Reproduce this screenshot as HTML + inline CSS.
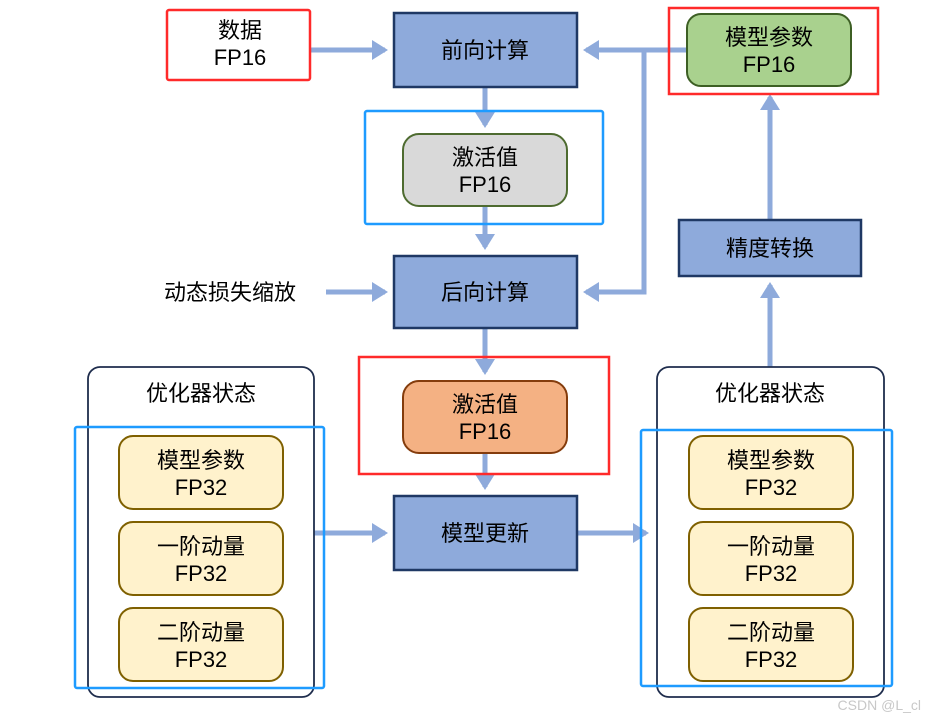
<!DOCTYPE html>
<html><head><meta charset="utf-8"><style>
html,body{margin:0;padding:0;background:#fff;width:925px;height:717px;overflow:hidden}
svg text{font-family:"Liberation Sans","Noto Sans CJK SC",sans-serif;fill:#000}
</style></head><body>
<svg width="925" height="717" viewBox="0 0 925 717" xmlns="http://www.w3.org/2000/svg">
<defs>
<marker id="ah" markerWidth="4" markerHeight="4" refX="2.6" refY="2" orient="auto" markerUnits="strokeWidth">
<path d="M0,0 L3.2,2 L0,4 Z" fill="#8eaadb"/></marker>
</defs>
<g stroke="#8eaadb" stroke-width="5" fill="none">
<line x1="300" y1="50" x2="385" y2="50" marker-end="url(#ah)"/>
<polyline points="687,50 644,50 644,292 586,292" marker-end="url(#ah)"/>
<line x1="644" y1="50" x2="586" y2="50" marker-end="url(#ah)"/>
<line x1="326" y1="292" x2="385" y2="292" marker-end="url(#ah)"/>
<line x1="485" y1="87" x2="485" y2="125" marker-end="url(#ah)"/>
<line x1="485" y1="206" x2="485" y2="247" marker-end="url(#ah)"/>
<line x1="485" y1="328" x2="485" y2="372" marker-end="url(#ah)"/>
<line x1="485" y1="453" x2="485" y2="487" marker-end="url(#ah)"/>
<line x1="314" y1="533" x2="385" y2="533" marker-end="url(#ah)"/>
<line x1="577" y1="533" x2="646" y2="533" marker-end="url(#ah)"/>
<line x1="770" y1="367" x2="770" y2="285" marker-end="url(#ah)"/>
<line x1="770" y1="220" x2="770" y2="97" marker-end="url(#ah)"/>
</g>
<!-- data -->
<rect x="167" y="10" width="143" height="70" fill="#fff" stroke="#ff2a2a" stroke-width="2.5" rx="2"/>
<text x="240" y="38" font-size="22" text-anchor="middle">数据</text>
<text x="240" y="65" font-size="22" text-anchor="middle">FP16</text>
<!-- model params fp16 -->
<rect x="669" y="8" width="209" height="86" fill="none" stroke="#ff2a2a" stroke-width="2.5"/>
<rect x="687" y="14" width="164" height="72" rx="14" fill="#a9d18e" stroke="#3d5f24" stroke-width="2"/>
<text x="769" y="45" font-size="22" text-anchor="middle">模型参数</text>
<text x="769" y="72" font-size="22" text-anchor="middle">FP16</text>
<!-- blue rects -->
<g fill="#8eaadb" stroke="#1f3864" stroke-width="2.5">
<rect x="394" y="13" width="183" height="74"/>
<rect x="394" y="256" width="183" height="72"/>
<rect x="394" y="496" width="183" height="74"/>
<rect x="679" y="220" width="182" height="56"/>
</g>
<g font-size="22" text-anchor="middle">
<text x="485" y="58">前向计算</text>
<text x="485" y="300">后向计算</text>
<text x="485" y="541">模型更新</text>
<text x="770" y="256">精度转换</text>
<text x="230" y="300">动态损失缩放</text>
</g>
<!-- activation 1 -->
<rect x="365" y="111" width="238" height="113" fill="none" stroke="#1e9bff" stroke-width="2.5" rx="2"/>
<rect x="403" y="134" width="164" height="72" rx="16" fill="#d9d9d9" stroke="#4e6b30" stroke-width="2"/>
<text x="485" y="165" font-size="22" text-anchor="middle">激活值</text>
<text x="485" y="192" font-size="22" text-anchor="middle">FP16</text>
<!-- activation 2 -->
<rect x="359" y="357" width="250" height="117" fill="none" stroke="#ff2a2a" stroke-width="2.5"/>
<rect x="403" y="381" width="164" height="72" rx="16" fill="#f4b183" stroke="#843c0c" stroke-width="2"/>
<text x="485" y="412" font-size="22" text-anchor="middle">激活值</text>
<text x="485" y="439" font-size="22" text-anchor="middle">FP16</text>
<!-- optimizer states -->
<g fill="none" stroke="#1f2d4d" stroke-width="1.8">
<rect x="88" y="367" width="226" height="330" rx="12"/>
<rect x="657" y="367" width="227" height="330" rx="12"/>
</g>
<text x="201" y="401" font-size="22" text-anchor="middle">优化器状态</text>
<text x="770" y="401" font-size="22" text-anchor="middle">优化器状态</text>
<g fill="#fff2cc" stroke="#7f6000" stroke-width="2">
<rect x="119" y="436" width="164" height="73" rx="14"/>
<rect x="119" y="522" width="164" height="73" rx="14"/>
<rect x="119" y="608" width="164" height="73" rx="14"/>
<rect x="689" y="436" width="164" height="73" rx="14"/>
<rect x="689" y="522" width="164" height="73" rx="14"/>
<rect x="689" y="608" width="164" height="73" rx="14"/>
</g>
<g font-size="22" text-anchor="middle">
<text x="201" y="468">模型参数</text><text x="201" y="495">FP32</text>
<text x="201" y="554">一阶动量</text><text x="201" y="581">FP32</text>
<text x="201" y="640">二阶动量</text><text x="201" y="667">FP32</text>
<text x="771" y="468">模型参数</text><text x="771" y="495">FP32</text>
<text x="771" y="554">一阶动量</text><text x="771" y="581">FP32</text>
<text x="771" y="640">二阶动量</text><text x="771" y="667">FP32</text>
</g>
<g fill="none" stroke="#1e9bff" stroke-width="2.5">
<rect x="75" y="427" width="249" height="261" rx="2"/>
<rect x="641" y="430" width="251" height="256" rx="2"/>
</g>
<text x="921" y="710" font-size="14" text-anchor="end" style="fill:#c8c8c8">CSDN @L_cl</text>
</svg>
</body></html>
